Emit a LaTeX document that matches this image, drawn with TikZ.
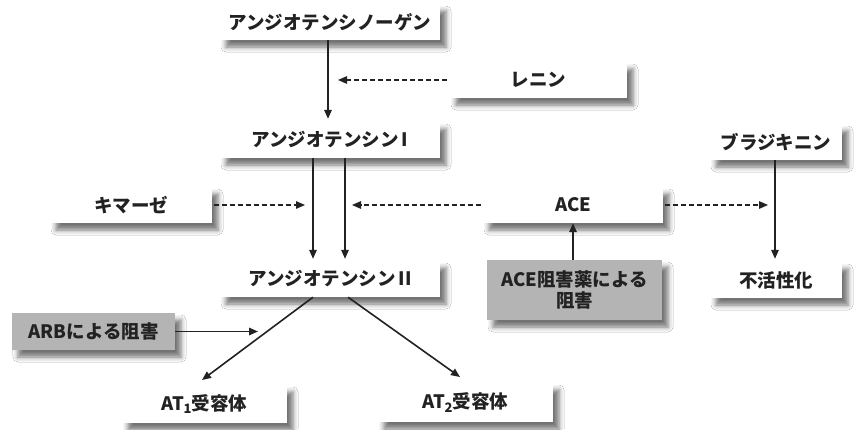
\documentclass[tikz,border=0pt]{standalone}
\usepackage{fontspec}
\setmainfont{Noto Sans CJK JP}
\usetikzlibrary{shadows.blur,arrows.meta}
\definecolor{ink}{HTML}{222222}
\definecolor{boxgray}{HTML}{B4B4B4}
\begin{document}
\begin{tikzpicture}[x=1pt,y=-1pt,
  box/.style={fill=white, inner sep=0pt, minimum height=36pt, text=ink,
    font=\fontsize{18.5}{21}\selectfont\bfseries,
    blur shadow={shadow xshift=6pt, shadow yshift=-7pt, shadow blur radius=5pt, shadow opacity=55}},
  graybox/.style={box, fill=boxgray},
  arr/.style={draw=ink, line width=1.6pt, -{Triangle[length=9pt,width=7.5pt]}},
  darr/.style={arr, line width=1.3pt, dash pattern=on 4.5pt off 3.5pt}]
\useasboundingbox[fill=white] (0,0) rectangle (857,429);
% nodes
\node[box, minimum width=220pt] (agen) at (330,22) {アンジオテンシノーゲン};
\node[box, minimum width=220pt] (a1) at (330,140) {アンジオテンシン\,I};
\node[box, minimum width=220pt] (a2) at (330,279) {アンジオテンシン\,II};
\node[box, minimum width=177pt] (renin) at (538.5,80) {レニン};
\node[box, minimum width=162pt] (kim) at (131,205) {キマーゼ};
\node[box, minimum width=180pt] (ace) at (573,205) {ACE};
\node[box, minimum width=132pt] (brad) at (776,142) {ブラジキニン};
\node[box, minimum width=132pt] (inact) at (776,280) {不活性化};
\node[graybox, minimum width=175pt, minimum height=60pt, align=center] (acei) at (574.5,290) {ACE阻害薬による\\阻害};
\node[graybox, minimum width=163pt, minimum height=37pt] (arb) at (93.5,331.5) {ARBによる阻害};
\node[box, minimum width=165pt, minimum height=38pt] (at1) at (204.5,404) {AT\kern-0.5pt\textsubscript{1}受容体};
\node[box, minimum width=175pt, minimum height=39pt] (at2) at (465.5,402.5) {AT\kern-0.5pt\textsubscript{2}受容体};
% helper coordinates
\coordinate (x0) at (328,0);
\coordinate (x1) at (313,0);
\coordinate (x2) at (345,0);
\coordinate (x3) at (348,0);
\coordinate (x4) at (775,0);
\coordinate (rtip) at (338,80);
\coordinate (ktip) at (305,205);
\coordinate (atip) at (352,205);
\coordinate (btip) at (768,205);
\coordinate (arbtip) at (258,0);
\coordinate (t1tip) at (202,380);
\coordinate (t2tip) at (460,377);
% connectors
\draw[arr, shorten >=3pt] (agen.south -| x0) -- (a1.north -| x0);
\draw[darr, shorten <=3pt] (renin.west) -- (rtip);
\draw[arr, shorten >=2pt] (a1.south -| x1) -- (a2.north -| x1);
\draw[arr, shorten >=2pt] (a1.south -| x2) -- (a2.north -| x2);
\draw[darr, shorten <=2pt] (kim.east) -- (ktip);
\draw[darr, shorten <=2pt] (ace.west) -- (atip);
\draw[darr, shorten <=2pt] (ace.east) -- (btip);
\draw[arr, shorten >=3pt] (brad.south -| x4) -- (inact.north -| x4);
\draw[arr] (acei.north -| ace.south) -- (ace.south);
\draw[arr] (arb.east) -- (arb.east -| arbtip);
\draw[arr] (a2.south -| x1) -- (t1tip);
\draw[arr] (a2.south -| x3) -- (t2tip);
\end{tikzpicture}
\end{document}
